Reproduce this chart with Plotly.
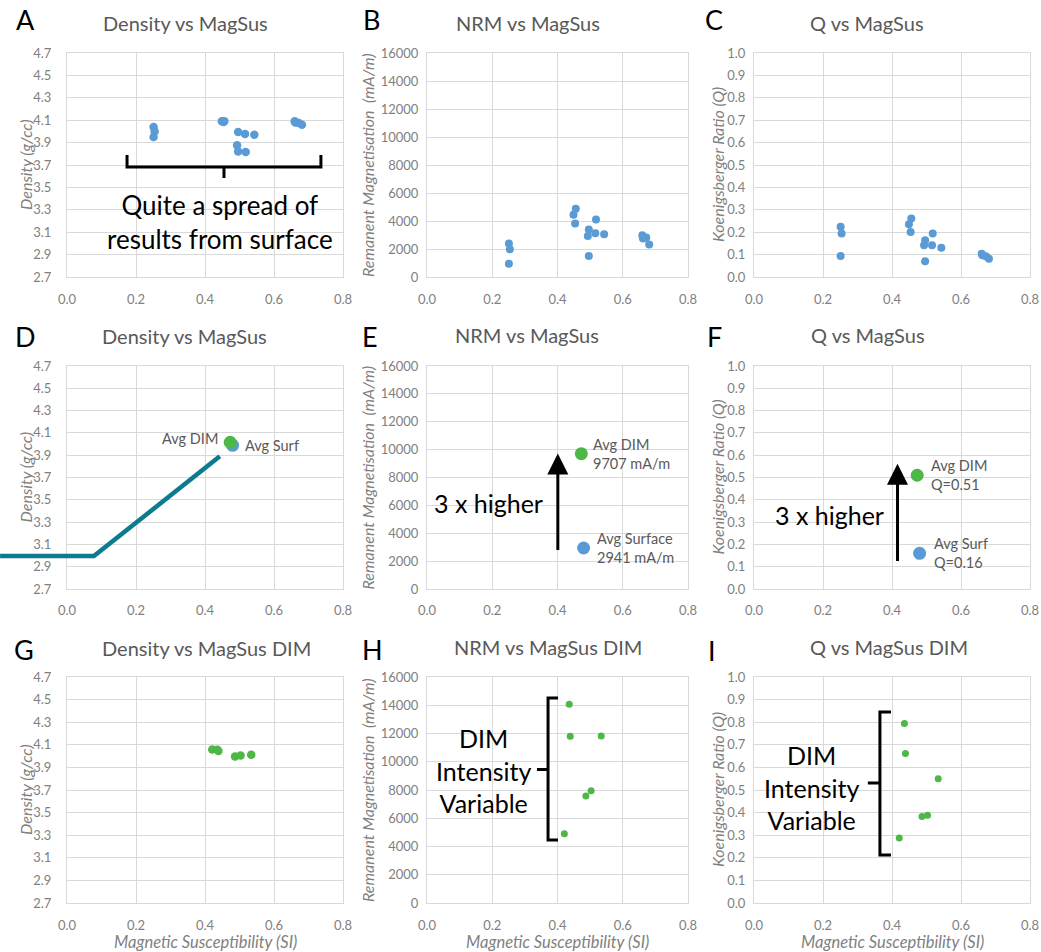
import plotly.graph_objects as go

# ---------------- data ----------------
surf_magsus = [0.251, 0.254, 0.251, 0.449, 0.456, 0.454, 0.496, 0.493,
               0.516, 0.518, 0.496, 0.543, 0.660, 0.662, 0.672, 0.681]
surf_density = [4.04, 4.00, 3.95, 4.09, 4.09, 4.085, 3.995, 3.876,
                3.977, 3.816, 3.82, 3.97, 4.09, 4.08, 4.075, 4.06]
surf_nrm = [2388, 1982, 955, 4442, 4872, 3821, 3391, 2937,
            3128, 4107, 1504, 3057, 2985, 2746, 2818, 2316]
surf_q = [0.224, 0.194, 0.094, 0.236, 0.261, 0.201, 0.164, 0.142,
          0.142, 0.194, 0.070, 0.131, 0.104, 0.097, 0.093, 0.082]

dim_magsus = [0.421, 0.436, 0.439, 0.487, 0.503, 0.534]
dim_density = [4.059, 4.056, 4.045, 3.997, 4.006, 4.012]
dim_nrm = [4909, 14065, 11799, 7575, 7953, 11823]
dim_q = [0.288, 0.794, 0.661, 0.383, 0.388, 0.550]

avg_magsus = [0.480, 0.473]          # [surface, DIM]
avg_density = [3.989, 4.016]
avg_nrm = [2941, 9707]
avg_q = [0.16, 0.51]

panel_letters = ["A", "B", "C", "D", "E", "F", "G", "H", "I"]
panel_titles = ["Density vs MagSus", "NRM vs MagSus", "Q vs MagSus",
                "Density vs MagSus", "NRM vs MagSus", "Q vs MagSus",
                "Density vs MagSus DIM", "NRM vs MagSus DIM", "Q vs MagSus DIM"]
y_titles = ["Density (g/cc)", "Remanent Magnetisation\u00a0\u00a0(mA/m)", "Koenigsberger Ratio (Q)"]
x_title = "Magnetic Susceptibility (SI)"

# ---------------- style ----------------
W, H = 1041, 952
BLUE = "#5B9BD5"
GREEN = "#4DB748"
TEAL = "#0C7A8F"
GRID = "#D9D9D9"
TICK = "#7F7F7F"
TITLE = "#595959"
FONT = "Lato"

col_px = [(67, 343), (427, 688), (754, 1030)]
row_px = [(53, 277), (366, 589), (677, 903)]
yranges = [[2.7, 4.7], [0, 16000], [0, 1]]
ydticks = [0.2, 2000, 0.1]
yfmts = [".1f", "d", ".1f"]
ystandoff = [12, 5, 5]
xstandoff = [10, 9, 10]

def xdom(c):
    return [col_px[c][0] / W, col_px[c][1] / W]

def ydom(r):
    return [1 - row_px[r][1] / H, 1 - row_px[r][0] / H]

fig = go.Figure()

layout = dict(
    template="none",
    width=W, height=H, margin=dict(l=0, r=0, t=0, b=0, pad=0, autoexpand=False),
    paper_bgcolor="white", plot_bgcolor="white", showlegend=False,
    font=dict(family=FONT, color=TICK, size=12),
)

for r in range(3):
    for c in range(3):
        n = r * 3 + 1 + c
        xa = "xaxis" if n == 1 else f"xaxis{n}"
        ya = "yaxis" if n == 1 else f"yaxis{n}"
        layout[xa] = dict(
            domain=xdom(c), range=[0, 0.8], dtick=0.2, tick0=0, tickformat=".1f",
            showgrid=True, gridcolor=GRID, gridwidth=1, zeroline=False,
            showline=True, linecolor=GRID, mirror=True, ticks="", automargin=False,
            ticklabelstandoff=xstandoff[r], anchor=f"y{'' if n == 1 else n}",
            tickfont=dict(size=13, color=TICK, family=FONT), fixedrange=True,
        )
        layout[ya] = dict(
            domain=ydom(r), range=yranges[c], dtick=ydticks[c], tickformat=yfmts[c],
            tick0=yranges[c][0],
            showgrid=True, gridcolor=GRID, gridwidth=1, zeroline=False,
            showline=True, linecolor=GRID, mirror=True, ticks="", automargin=False,
            ticklabelstandoff=ystandoff[c], anchor=f"x{'' if n == 1 else n}",
            tickfont=dict(size=13, color=TICK, family=FONT), fixedrange=True,
        )

def ax(n):
    return ("x" if n == 1 else f"x{n}"), ("y" if n == 1 else f"y{n}")

def scat(n, xs, ys, color, size):
    xr, yr = ax(n)
    fig.add_trace(go.Scatter(x=xs, y=ys, mode="markers", xaxis=xr, yaxis=yr,
                             marker=dict(color=color, size=size, line=dict(width=0)),
                             hoverinfo="skip", cliponaxis=False))

# Row 1: surface samples
scat(1, surf_magsus, surf_density, BLUE, 8.5)
scat(2, surf_magsus, surf_nrm, BLUE, 8)
scat(3, surf_magsus, surf_q, BLUE, 8)
# Row 2: averages (surface first, DIM on top)
for n, vals in [(4, avg_density), (5, avg_nrm), (6, avg_q)]:
    scat(n, [avg_magsus[0]], [vals[0]], BLUE, 13)
    scat(n, [avg_magsus[1]], [vals[1]], GREEN, 13)
# Row 3: DIM samples
scat(7, dim_magsus, dim_density, GREEN, 8.5)
scat(8, dim_magsus, dim_nrm, GREEN, 7)
scat(9, dim_magsus, dim_q, GREEN, 7)

ann = []
# panel letters and titles
letter_pos = [(25, 19), (371, 19), (714, 19), (25, 336), (370, 336), (714, 336),
              (24, 649), (372, 649), (712, 650)]
title_pos = [(185, 23), (528, 23), (867, 23), (184, 336), (527, 335), (868, 335),
             (206, 648), (548, 647), (889, 647)]
for i in range(9):
    lx, ly = letter_pos[i]
    ann.append(dict(x=lx / W, y=1 - ly / H, xref="paper", yref="paper", text=panel_letters[i],
                    showarrow=False, xanchor="center", yanchor="middle",
                    font=dict(family=FONT, size=27, color="black")))
    tx, ty = title_pos[i]
    ann.append(dict(x=tx / W, y=1 - ty / H, xref="paper", yref="paper", text=panel_titles[i],
                    showarrow=False, xanchor="center", yanchor="middle",
                    font=dict(family=FONT, size=20, color=TITLE)))

# y-axis titles
ytitle_x = [25, 367, 717]
for r in range(3):
    for c in range(3):
        yc = 1 - (row_px[r][0] + row_px[r][1]) / 2 / H
        ann.append(dict(x=ytitle_x[c] / W, y=yc, xref="paper", yref="paper",
                        text=f"<i>{y_titles[c]}</i>", textangle=-90, showarrow=False,
                        xanchor="center", yanchor="middle",
                        font=dict(family=FONT, size=16, color=TICK)))
# x-axis titles (bottom row)
for c in range(3):
    xc = (col_px[c][0] + col_px[c][1]) / 2 / W
    ann.append(dict(x=xc, y=1 - 942 / H, xref="paper", yref="paper",
                    text=f"<i>{x_title}</i>", showarrow=False,
                    xanchor="center", yanchor="middle",
                    font=dict(family=FONT, size=16.5, color=TICK)))

BIG = 25
# Panel A annotation text
ann.append(dict(x=0.443, y=3.187, xref="x", yref="y", text="Quite a spread of<br>results from surface",
                showarrow=False, xanchor="center", yanchor="middle",
                font=dict(family=FONT, size=26, color="black")))

# Panel D labels
ann.append(dict(x=avg_magsus[1], y=avg_density[1], xref="x4", yref="y4", text="Avg DIM",
                showarrow=False, xanchor="right", yanchor="middle", xshift=-10, yshift=4,
                font=dict(family=FONT, size=14.5, color=TITLE)))
ann.append(dict(x=avg_magsus[0], y=avg_density[0], xref="x4", yref="y4", text="Avg Surf",
                showarrow=False, xanchor="left", yanchor="middle", xshift=10,
                font=dict(family=FONT, size=14.5, color=TITLE)))
# Panel E labels
ann.append(dict(x=avg_magsus[1], y=avg_nrm[1], xref="x5", yref="y5",
                text=f"Avg DIM<br>{avg_nrm[1]} mA/m", align="left",
                showarrow=False, xanchor="left", yanchor="middle", xshift=10,
                font=dict(family=FONT, size=14.5, color=TITLE)))
ann.append(dict(x=avg_magsus[0], y=avg_nrm[0], xref="x5", yref="y5",
                text=f"Avg Surface<br>{avg_nrm[0]} mA/m", align="left",
                showarrow=False, xanchor="left", yanchor="middle", xshift=11,
                font=dict(family=FONT, size=14.5, color=TITLE)))
# Panel F labels
ann.append(dict(x=avg_magsus[1], y=avg_q[1], xref="x6", yref="y6",
                text=f"Avg DIM<br>Q={avg_q[1]:.2f}", align="left",
                showarrow=False, xanchor="left", yanchor="middle", xshift=12,
                font=dict(family=FONT, size=14.5, color=TITLE)))
ann.append(dict(x=avg_magsus[0], y=avg_q[0], xref="x6", yref="y6",
                text=f"Avg Surf<br>Q={avg_q[0]:.2f}", align="left",
                showarrow=False, xanchor="left", yanchor="middle", xshift=12,
                font=dict(family=FONT, size=14.5, color=TITLE)))

# Arrows + "3 x higher"
ann.append(dict(x=0.401, y=9728, ax=0.401, ay=2694, xref="x5", yref="y5", axref="x5", ayref="y5",
                text="", showarrow=True, arrowhead=2, arrowsize=1.4, arrowwidth=3, arrowcolor="black"))
ann.append(dict(x=0.187, y=6170, xref="x5", yref="y5", text="3 x higher", showarrow=False,
                xanchor="center", yanchor="middle", font=dict(family=FONT, size=BIG, color="black")))
ann.append(dict(x=0.416, y=0.562, ax=0.416, ay=0.119, xref="x6", yref="y6", axref="x6", ayref="y6",
                text="", showarrow=True, arrowhead=2, arrowsize=1.4, arrowwidth=3, arrowcolor="black"))
ann.append(dict(x=0.2195, y=0.330, xref="x6", yref="y6", text="3 x higher", showarrow=False,
                xanchor="center", yanchor="middle", font=dict(family=FONT, size=BIG, color="black")))

# H and I text
ann.append(dict(x=0.172, y=9416, xref="x8", yref="y8", text="DIM<br>Intensity<br>Variable",
                showarrow=False, xanchor="center", yanchor="middle",
                font=dict(family=FONT, size=BIG, color="black")))
ann.append(dict(x=0.168, y=0.513, xref="x9", yref="y9", text="DIM<br>Intensity<br>Variable",
                showarrow=False, xanchor="center", yanchor="middle",
                font=dict(family=FONT, size=BIG, color="black")))

layout["annotations"] = ann

# shapes: braces and teal line
def d2p(n, x, y):
    r, c = (n - 1) // 3, (n - 1) % 3
    x0, x1 = xdom(c)
    y0, y1 = ydom(r)
    ylo, yhi = yranges[c]
    return x0 + (x / 0.8) * (x1 - x0), y0 + (y - ylo) / (yhi - ylo) * (y1 - y0)

teal_pts = [(-0.194, 2.995), (0.078, 2.995), (0.443, 3.89)]
pp = [d2p(4, x, y) for x, y in teal_pts]
teal_path = "M " + " L ".join(f"{px:.5f},{py:.5f}" for px, py in pp)

shapes = [
    dict(type="path", xref="x", yref="y", line=dict(color="black", width=3),
         path="M 0.174,3.789 L 0.174,3.682 L 0.736,3.682 L 0.736,3.789 M 0.455,3.682 L 0.455,3.584"),
    dict(type="path", xref="x8", yref="y8", line=dict(color="black", width=3),
         path="M 0.4015,14513 L 0.371,14513 L 0.371,4460 L 0.4015,4460 M 0.371,9450 L 0.337,9450"),
    dict(type="path", xref="x9", yref="y9", line=dict(color="black", width=3),
         path="M 0.397,0.845 L 0.365,0.845 L 0.365,0.212 L 0.397,0.212 M 0.365,0.531 L 0.330,0.531"),
    dict(type="path", xref="paper", yref="paper", line=dict(color=TEAL, width=4.5),
         path=teal_path),
]
layout["shapes"] = shapes

fig.update_layout(**layout)
fig.write_html("out.html", config={"displayModeBar": False},
               post_script="document.body.style.margin='0';document.body.style.overflow='hidden';")
